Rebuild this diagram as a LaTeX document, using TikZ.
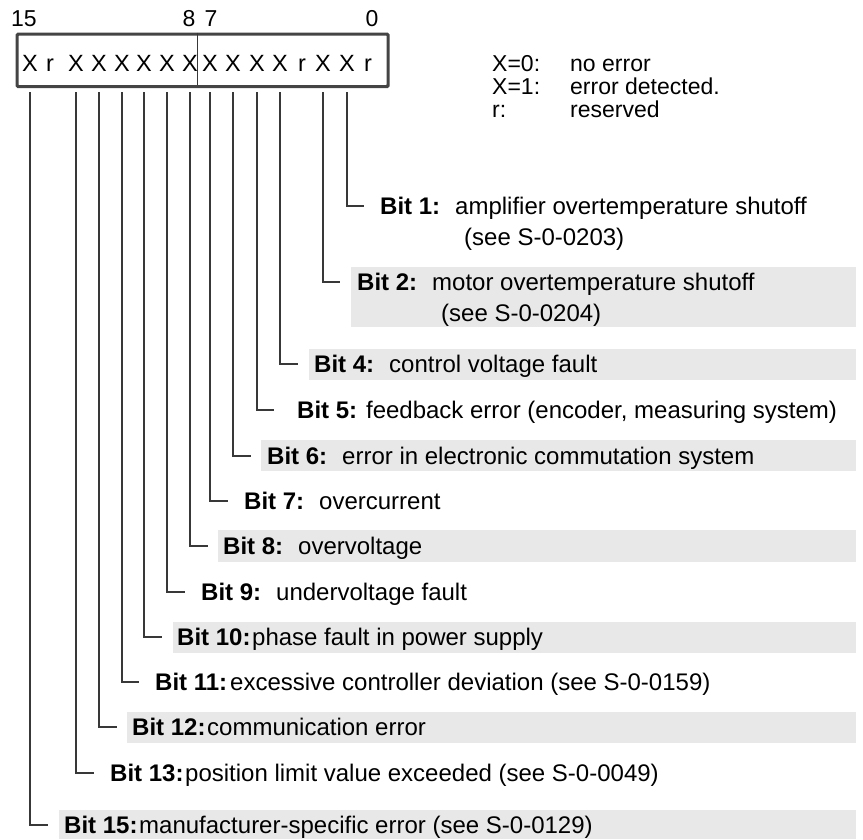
\documentclass[tikz,border=0pt]{standalone}
\usepackage{fontspec}
\setmainfont{Liberation Sans}
\definecolor{bandgray}{HTML}{E8E8E8}
\definecolor{wire}{HTML}{383838}
\definecolor{frame}{HTML}{444444}
\newcommand\bitlabel[1]{\makebox[75pt][l]{\bfseries Bit #1:}}
\tikzset{
  regframe/.style={draw=frame, line width=3.2pt, rounded corners=1.2pt, inner sep=0pt,
    minimum width=371pt, minimum height=52.5pt, anchor=north west},
  cellchar/.style={anchor=base, inner sep=0pt, font=\fontsize{23.5}{28}\selectfont},
  toplabel/.style={anchor=base, inner sep=0pt, font=\fontsize{23}{27}\selectfont},
  legendtext/.style={anchor=base west, inner sep=0pt, font=\fontsize{23}{27}\selectfont},
  rowtext/.style={anchor=base west, inner sep=0pt, font=\fontsize{24}{29}\selectfont},
  leader/.style={draw=wire, line width=1.3pt},
  bandfill/.style={fill=bandgray},
}
\begin{document}
\begin{tikzpicture}[x=1pt,y=-1pt]
\useasboundingbox (0,0) rectangle (863,839);

% status word frame with the byte divider
\node[regframe] (reg) at (15.5,32.5) {};
\draw[wire, line width=0.9pt] (197.5,32.5) -- (197.5,85);

% bit characters, bit 15 on the left
\foreach \b/\x/\c in {15/30/X,14/50/r,13/76/X,12/99/X,11/122/X,10/144/X,9/167/X,8/190/X,
                      7/210/X,6/233/X,5/257/X,4/280/X,3/302/r,2/323/X,1/347/X,0/368/r}
  \node[cellchar] (b\b) at (\x,71) {\c};

% bit numbers above the frame
\node[toplabel] (n15) at (24,26) {15};
\node[toplabel] (n8) at (189,26) {8};
\node[toplabel] (n7) at (211,26) {7};
\node[toplabel] (n0) at (372,26) {0};

% legend
\node[legendtext] (k0) at (492,71) {X=0:};
\node[legendtext] (v0) at (570,71) {no error};
\node[legendtext] (k1) at (492,94.5) {X=1:};
\node[legendtext] (v1) at (570,94.5) {error detected.};
\node[legendtext] (kr) at (492,117) {r:};
\node[legendtext] (vr) at (570,117) {reserved};

% leaders start just below the frame
\coordinate (wtop) at (0,92);

% shaded rows
\fill[bandfill] (351,267) rectangle (856,327);
\fill[bandfill] (309,349) rectangle (856,380);
\fill[bandfill] (261,440) rectangle (856,471);
\fill[bandfill] (218,530) rectangle (856,562);
\fill[bandfill] (173,622) rectangle (856,653);
\fill[bandfill] (127,712) rectangle (856,743);
\fill[bandfill] (59,810) rectangle (856,839);

% leader ends
\coordinate (e1) at (364,206);
\coordinate (e2) at (340,282);
\coordinate (e4) at (298,364);
\coordinate (e5) at (274,410);
\coordinate (e6) at (251,456);
\coordinate (e7) at (228,501);
\coordinate (e8) at (208,546);
\coordinate (e9) at (185,592);
\coordinate (e10) at (162,637);
\coordinate (e11) at (139,682);
\coordinate (e12) at (117,727);
\coordinate (e13) at (94,773);
\coordinate (e15) at (48,825);

\foreach \b in {1,2,4,5,6,7,8,9,10,11,12,13,15}
  \draw[leader] (b\b |- wtop) |- (e\b);

% bit descriptions
\node[rowtext] (r1) at (380,214.5) {\bitlabel{1}amplifier overtemperature shutoff};
\node[rowtext] (r1b) at (464,245.5) {(see S-0-0203)};
\node[rowtext] (r2) at (357,290.5) {\bitlabel{2}motor overtemperature shutoff};
\node[rowtext] (r2b) at (441,321.5) {(see S-0-0204)};
\node[rowtext] (r4) at (314,372.5) {\bitlabel{4}control voltage fault};
\node[rowtext] (r5) at (297,418.5) {\textbf{Bit 5:} feedback error (encoder, measuring system)};
\node[rowtext] (r6) at (267,464.5) {\bitlabel{6}error in electronic commutation system};
\node[rowtext] (r7) at (244,509.5) {\bitlabel{7}overcurrent};
\node[rowtext] (r8) at (223,554.5) {\bitlabel{8}overvoltage};
\node[rowtext] (r9) at (201,600.5) {\bitlabel{9}undervoltage fault};
\node[rowtext] (r10) at (177,645.5) {\bitlabel{10}phase fault in power supply};
\node[rowtext] (r11) at (155,690.5) {\bitlabel{11}excessive controller deviation (see S-0-0159)};
\node[rowtext] (r12) at (132,735.5) {\bitlabel{12}communication error};
\node[rowtext] (r13) at (110,781.5) {\bitlabel{13}position limit value exceeded (see S-0-0049)};
\node[rowtext] (r15) at (64,833.5) {\bitlabel{15}manufacturer-specific error (see S-0-0129)};
\end{tikzpicture}
\end{document}
